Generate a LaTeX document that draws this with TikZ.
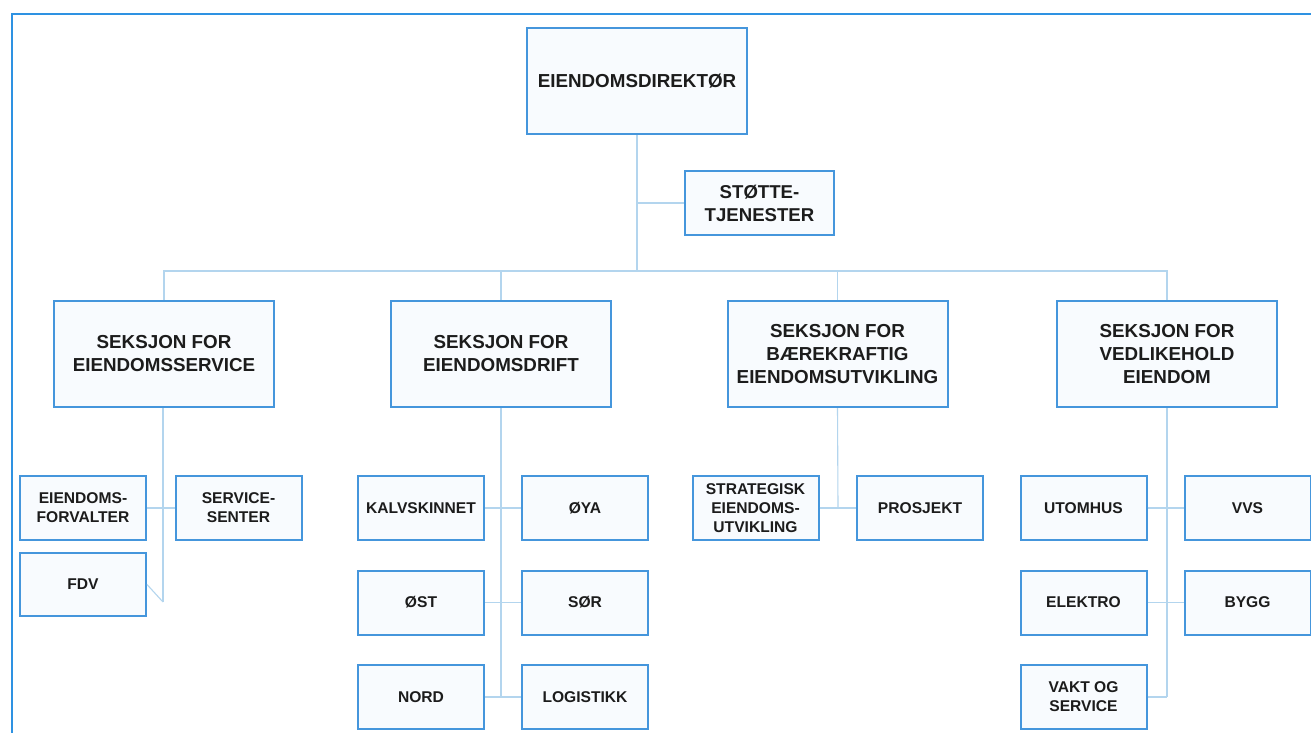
\documentclass[tikz,border=0pt]{standalone}
\usepackage{fontspec}
\setmainfont{Liberation Sans}
\definecolor{boxblue}{HTML}{4596DC}
\definecolor{boxfill}{HTML}{F8FBFE}
\definecolor{linkblue}{HTML}{B3D5EE}
\definecolor{frameblue}{HTML}{2E92E2}
\definecolor{inkc}{HTML}{1C1C1C}
\tikzset{
  orgbox/.style={draw=boxblue, fill=boxfill, line width=1pt, align=center, inner sep=0pt, text=inkc, font=\bfseries},
  bigbox/.style={orgbox, minimum width=110pt, minimum height=53pt, font=\bfseries\fontsize{9.4}{11.5}\selectfont},
  smallbox/.style={orgbox, minimum width=63pt, minimum height=32pt, font=\bfseries\fontsize{7.8}{9.4}\selectfont},
  link/.style={draw=linkblue, line width=0.55pt},
}
\begin{document}
\begin{tikzpicture}[x=0.5pt, y=-0.5pt]
\useasboundingbox (0,0) rectangle (1311,733);
\clip (0,0) rectangle (1311,733);
\fill[white] (0,0) rectangle (1311,733);
% frame
\draw[frameblue, line width=1.1pt] (12,740) -- (12,14) -- (1320,14);

% connector coordinates
\coordinate (busL) at (163,271);
\coordinate (busR) at (1168,271);
\coordinate (e1) at (163,602);
\coordinate (e2) at (501,697);
\coordinate (e3) at (838,508);
\coordinate (e4) at (1167,697);

% nodes
\node[bigbox] (dir) at (637,81) {EIENDOMSDIREKTØR};
\node[orgbox, minimum width=74.5pt, minimum height=32pt, font=\bfseries\fontsize{9.3}{11.5}\selectfont] (stotte) at (759.5,203) {STØTTE-\\TJENESTER};

\node[bigbox] (s1) at (164,354) {SEKSJON FOR\\EIENDOMSSERVICE};
\node[bigbox] (s2) at (501,354) {SEKSJON FOR\\EIENDOMSDRIFT};
\node[bigbox] (s3) at (837.5,354) {SEKSJON FOR\\BÆREKRAFTIG\\EIENDOMSUTVIKLING};
\node[bigbox] (s4) at (1167,354) {SEKSJON FOR\\VEDLIKEHOLD\\EIENDOM};

\node[smallbox] (ef) at (83,508) {EIENDOMS-\\FORVALTER};
\node[smallbox] (ss) at (238.5,508) {SERVICE-\\SENTER};
\node[smallbox, minimum height=31.5pt] (fdv) at (83,584.5) {FDV};

\node[smallbox] (kal) at (421,508) {KALVSKINNET};
\node[smallbox] (oya) at (585,508) {ØYA};
\node[smallbox] (ost) at (421,602.5) {ØST};
\node[smallbox] (sor) at (585,602.5) {SØR};
\node[smallbox] (nord) at (421,697) {NORD};
\node[smallbox] (log) at (585,697) {LOGISTIKK};

\node[smallbox] (strat) at (755.5,508) {STRATEGISK\\EIENDOMS-\\UTVIKLING};
\node[smallbox] (pros) at (920,508) {PROSJEKT};

\node[smallbox] (utom) at (1083.5,508) {UTOMHUS};
\node[smallbox] (vvs) at (1247.5,508) {VVS};
\node[smallbox] (elek) at (1083.5,602.5) {ELEKTRO};
\node[smallbox] (bygg) at (1247.5,602.5) {BYGG};
\node[smallbox] (vakt) at (1083.5,697) {VAKT OG\\SERVICE};

% connectors
\draw[link] (dir.south) -- (dir.south |- busL);
\draw[link] (stotte.west) -- (stotte.west -| dir.south);
\draw[link] (busL) -- (busR);
\draw[link] (s1.north) -- (s1.north |- busL);
\draw[link] (s2.north) -- (s2.north |- busL);
\draw[link] (s3.north) -- (s3.north |- busL);
\draw[link] (s4.north) -- (s4.north |- busL);

\draw[link] (s1.south -| e1) -- (e1);
\draw[link] (fdv.east) -- (e1);
\draw[link] (ef.east) -- (ss.west);

\draw[link] (s2.south) -- (e2);
\draw[link] (kal.east) -- (oya.west);
\draw[link] (ost.east) -- (sor.west);
\draw[link] (nord.east) -- (log.west);

\draw[link] (s3.south) -- (e3);
\draw[link] (strat.east) -- (pros.west);

\draw[link] (s4.south) -- (e4);
\draw[link] (utom.east) -- (vvs.west);
\draw[link] (elek.east) -- (bygg.west);
\draw[link] (vakt.east) -- (e4);
\end{tikzpicture}
\end{document}
